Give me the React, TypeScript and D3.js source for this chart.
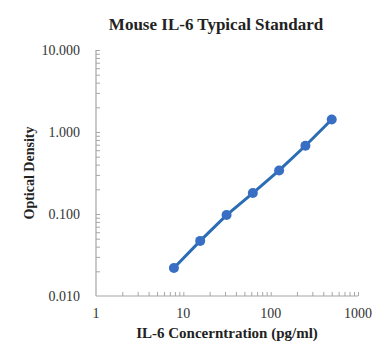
import React from 'react';
import * as d3 from 'd3';

// standard curve points
const concentrations = [7.8, 15.6, 31.25, 62.5, 125, 250, 500];
const odValues = [0.022, 0.047, 0.097, 0.18, 0.34, 0.68, 1.42];
const xTicks = [1, 10, 100, 1000];
const yTicks = [0.01, 0.1, 1, 10];

const App: React.FC = () => {
  const svgRef = React.useRef<SVGSVGElement>(null);
  const width = 391;
  const height = 361;

  React.useEffect(() => {
    if (!svgRef.current) return;
    const svg = d3.select(svgRef.current);
    svg.selectAll("*").remove();

    const margin = { top: 50, right: 33, bottom: 65, left: 96 };
    const x = d3.scaleLog().domain([1, 1000]).range([margin.left, width - margin.right]);
    const y = d3.scaleLog().domain([0.01, 10]).range([height - margin.bottom, margin.top]);
    const font = "'Liberation Serif', 'Times New Roman', serif";
    const axisColor = "#a6a6a6";

    // minor ticks 2..10 per decade
    const minor = (lo: number, hi: number) => {
      const out: number[] = [];
      for (let p = lo; p < hi; p *= 10) {
        for (let k = 2; k <= 10; k++) out.push(p * k);
      }
      return out;
    };

    // x axis
    const xAxis = svg.append("g")
      .attr("transform", `translate(0,${y(0.01)})`)
      .call(d3.axisTop(x).tickValues(minor(1, 1000)).tickSize(4).tickFormat(() => ""));
    xAxis.select(".domain").remove();
    xAxis.selectAll("line").attr("stroke", axisColor);

    // y axis
    const yAxis = svg.append("g")
      .attr("transform", `translate(${x(1)},0)`)
      .call(d3.axisRight(y).tickValues(minor(0.01, 10)).tickSize(4).tickFormat(() => ""));
    yAxis.select(".domain").remove();
    yAxis.selectAll("line").attr("stroke", axisColor);

    svg.append("line")
      .attr("x1", x(1)).attr("x2", x(1000))
      .attr("y1", y(0.01)).attr("y2", y(0.01))
      .attr("stroke", axisColor).attr("stroke-width", 1.2);
    svg.append("line")
      .attr("x1", x(1)).attr("x2", x(1))
      .attr("y1", y(0.01)).attr("y2", y(10))
      .attr("stroke", axisColor).attr("stroke-width", 1.2);

    // tick labels
    svg.selectAll(".xlab")
      .data(xTicks)
      .enter().append("text")
      .attr("x", d => x(d))
      .attr("y", y(0.01) + 22)
      .attr("text-anchor", "middle")
      .attr("font-family", font)
      .attr("font-size", "14px")
      .attr("fill", "#333")
      .text(d => String(d));

    svg.selectAll(".ylab")
      .data(yTicks)
      .enter().append("text")
      .attr("x", x(1) - 16)
      .attr("y", d => y(d))
      .attr("dy", "0.35em")
      .attr("text-anchor", "end")
      .attr("font-family", font)
      .attr("font-size", "14px")
      .attr("fill", "#333")
      .text(d => d3.format(".3f")(d));

    // curve
    const line = d3.line<number>()
      .x((_, i) => x(concentrations[i]))
      .y(d => y(d));
    svg.append("path")
      .datum(odValues)
      .attr("d", line)
      .attr("fill", "none")
      .attr("stroke", "#2a6db5")
      .attr("stroke-width", 3);

    svg.selectAll(".dot")
      .data(odValues)
      .enter().append("circle")
      .attr("cx", (_, i) => x(concentrations[i]))
      .attr("cy", d => y(d))
      .attr("r", 5)
      .attr("fill", "#386ec4");

    // titles
    svg.append("text")
      .attr("x", 216)
      .attr("y", 30)
      .attr("text-anchor", "middle")
      .attr("font-family", font)
      .attr("font-size", "17px")
      .attr("font-weight", "bold")
      .attr("fill", "#222")
      .text("Mouse IL-6 Typical Standard");

    svg.append("text")
      .attr("x", 227)
      .attr("y", 338)
      .attr("text-anchor", "middle")
      .attr("font-family", font)
      .attr("font-size", "15px")
      .attr("font-weight", "bold")
      .attr("fill", "#222")
      .text("IL-6 Concerntration (pg/ml)");

    svg.append("text")
      .attr("transform", `translate(34,173) rotate(-90)`)
      .attr("text-anchor", "middle")
      .attr("font-family", font)
      .attr("font-size", "14px")
      .attr("font-weight", "bold")
      .attr("fill", "#222")
      .text("Optical Density");
  }, []);

  return (
    <svg
      ref={svgRef}
      width={width}
      height={height}
      style={{ position: "absolute", left: 0, top: 0, background: "#fff" }}
    />
  );
};

export default App;
